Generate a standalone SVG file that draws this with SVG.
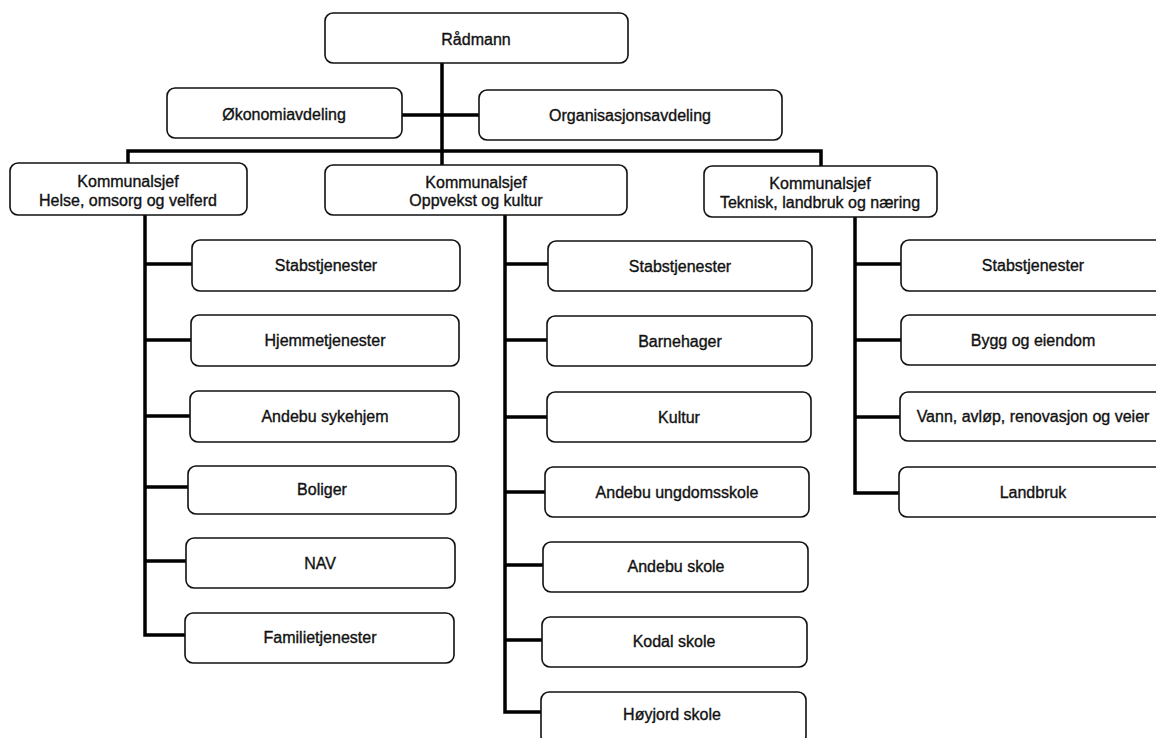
<svg xmlns="http://www.w3.org/2000/svg" width="1156" height="738" viewBox="0 0 1156 738">
<style>
.b{fill:#fff;stroke:#111;stroke-width:1.6}
.t{font-family:"Liberation Sans",Arial,sans-serif;font-size:16px;fill:#111;text-anchor:middle;stroke:#111;stroke-width:0.35}
.c{fill:none;stroke:#000;stroke-width:3.5}
</style>
<rect width="1156" height="738" fill="#fff"/>
<g id="connectors">
<path class="c" d="M442 63 V165 M402 115 H479 M128 165 V151 H821 V166"/>
<path class="c" d="M145 215 V635 H187 M145 264 H192 M145 340 H192 M145 416 H191 M145 487 H189 M145 561 H187"/>
<path class="c" d="M505 215 V712 H542 M505 264 H548 M505 340 H547 M505 417 H547 M505 492 H545 M505 565 H543 M505 640 H542"/>
<path class="c" d="M855 217 V493 H899 M855 264 H901 M855 340 H901 M855 417 H900"/>
</g>
<g id="n-radmann"><rect class="b" x="325" y="13" width="303" height="50" rx="8"/><text class="t" x="476" y="45">Rådmann</text></g>
<g id="n-okonomi"><rect class="b" x="167" y="88" width="235" height="50" rx="8"/><text class="t" x="284" y="120">Økonomiavdeling</text></g>
<g id="n-organisasjon"><rect class="b" x="479" y="90" width="303" height="50" rx="8"/><text class="t" x="630" y="121">Organisasjonsavdeling</text></g>
<g id="n-helse"><rect class="b" x="10" y="163" width="237" height="52" rx="8"/><text class="t" x="128" y="187">Kommunalsjef</text><text class="t" x="128" y="206">Helse, omsorg og velferd</text></g>
<g id="n-oppvekst"><rect class="b" x="325" y="165" width="302" height="50" rx="8"/><text class="t" x="476" y="188">Kommunalsjef</text><text class="t" x="476" y="206">Oppvekst og kultur</text></g>
<g id="n-teknisk"><rect class="b" x="704" y="166" width="233" height="51" rx="8"/><text class="t" x="820" y="189">Kommunalsjef</text><text class="t" x="820" y="208">Teknisk, landbruk og næring</text></g>

<g id="n-h1"><rect class="b" x="192" y="240" width="268" height="51" rx="8"/><text class="t" x="326" y="271">Stabstjenester</text></g>
<g id="n-h2"><rect class="b" x="191" y="315" width="268" height="51" rx="8"/><text class="t" x="325" y="346">Hjemmetjenester</text></g>
<g id="n-h3"><rect class="b" x="190" y="391" width="269" height="51" rx="8"/><text class="t" x="325" y="422">Andebu sykehjem</text></g>
<g id="n-h4"><rect class="b" x="188" y="466" width="268" height="48" rx="8"/><text class="t" x="322" y="495">Boliger</text></g>
<g id="n-h5"><rect class="b" x="186" y="538" width="269" height="50" rx="8"/><text class="t" x="320" y="569">NAV</text></g>
<g id="n-h6"><rect class="b" x="185" y="613" width="269" height="50" rx="8"/><text class="t" x="320" y="643">Familietjenester</text></g>

<g id="n-o1"><rect class="b" x="548" y="241" width="264" height="50" rx="8"/><text class="t" x="680" y="272">Stabstjenester</text></g>
<g id="n-o2"><rect class="b" x="547" y="316" width="265" height="50" rx="8"/><text class="t" x="680" y="347">Barnehager</text></g>
<g id="n-o3"><rect class="b" x="547" y="392" width="264" height="50" rx="8"/><text class="t" x="679" y="423">Kultur</text></g>
<g id="n-o4"><rect class="b" x="545" y="467" width="264" height="50" rx="8"/><text class="t" x="677" y="498">Andebu ungdomsskole</text></g>
<g id="n-o5"><rect class="b" x="543" y="542" width="265" height="50" rx="8"/><text class="t" x="676" y="572">Andebu skole</text></g>
<g id="n-o6"><rect class="b" x="542" y="617" width="265" height="50" rx="8"/><text class="t" x="674" y="647">Kodal skole</text></g>
<g id="n-o7"><rect class="b" x="541" y="692" width="265" height="52" rx="8"/><text class="t" x="672" y="720">Høyjord skole</text></g>

<g id="n-t1"><rect class="b" x="901" y="240" width="268" height="51" rx="8"/><text class="t" x="1033" y="271">Stabstjenester</text></g>
<g id="n-t2"><rect class="b" x="901" y="315" width="268" height="50" rx="8"/><text class="t" x="1033" y="346">Bygg og eiendom</text></g>
<g id="n-t3"><rect class="b" x="900" y="392" width="268" height="49" rx="8"/><text class="t" x="1033" y="422">Vann, avløp, renovasjon og veier</text></g>
<g id="n-t4"><rect class="b" x="899" y="467" width="268" height="50" rx="8"/><text class="t" x="1033" y="498">Landbruk</text></g>
</svg>
